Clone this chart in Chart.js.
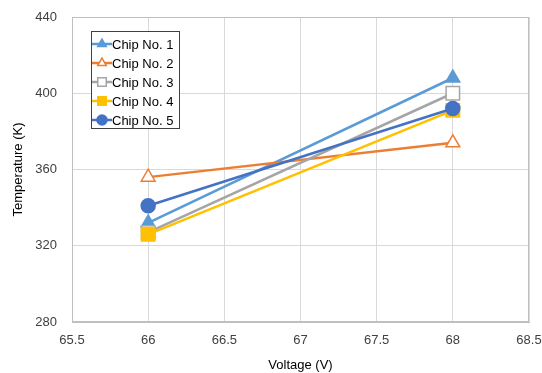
<!DOCTYPE html>
<html>
<head>
<meta charset="utf-8">
<script src="https://cdn.jsdelivr.net/npm/chart.js@4.4.0/dist/chart.umd.min.js"></script>
<style>
  html, body { margin: 0; padding: 0; background: #fff; }
  #wrap { width: 542px; height: 373px; position: relative; }
</style>
</head>
<body>
<div id="wrap"><canvas id="chart"></canvas></div>
<script>
// --- Data ---
const voltages = [66, 68];
const chipLabels = ['Chip No. 1', 'Chip No. 2', 'Chip No. 3', 'Chip No. 4', 'Chip No. 5'];
const chip1 = [332, 408];
const chip2 = [356, 374];
const chip3 = [327, 400];
const chip4 = [326, 391];
const chip5 = [341, 392];
const xTicks = [65.5, 66, 66.5, 67, 67.5, 68, 68.5];
const yTicks = [280, 320, 360, 400, 440];

const FONT = "'Liberation Sans', Arial, sans-serif";

const styles = [
    { color: '#5B9BD5', point: 'triangle', fill: '#5B9BD5', radius: 8 },
    { color: '#ED7D31', point: 'triangle', fill: '#ffffff', radius: 8 },
    { color: '#A5A5A5', point: 'rect', fill: '#ffffff', radius: 9.5 },
    { color: '#FFC000', point: 'rect', fill: '#FFC000', radius: 9.5 },
    { color: '#4472C4', point: 'circle', fill: '#4472C4', radius: 7 }
];

function toPoints(values) {
    return voltages.map((v, i) => ({ x: v, y: values[i] }));
}

const series = [chip1, chip2, chip3, chip4, chip5];
const datasets = series.map((vals, i) => ({
    label: chipLabels[i],
    data: toPoints(vals),
    borderColor: styles[i].color,
    backgroundColor: styles[i].fill,
    pointBackgroundColor: styles[i].fill,
    pointBorderColor: styles[i].color,
    pointBorderWidth: 1.5,
    pointStyle: styles[i].point,
    pointRadius: styles[i].radius,
    borderWidth: 2.5,
    order: series.length - 1 - i, // later series on top, like the original
    tension: 0
}));

// legend drawn inside the plot area, top-left
const insideLegend = {
    id: 'insideLegend',
    afterDraw(chart) {
        const ctx = chart.ctx;
        const box = { x: 91, y: 31, w: 88, h: 97 };
        ctx.save();
        ctx.fillStyle = '#fff';
        ctx.fillRect(box.x, box.y, box.w, box.h);
        ctx.strokeStyle = '#404040';
        ctx.lineWidth = 1;
        ctx.strokeRect(box.x + 0.5, box.y + 0.5, box.w, box.h);
        ctx.font = '13px ' + FONT;
        ctx.textBaseline = 'middle';
        chart.data.datasets.forEach((ds, i) => {
            const cy = box.y + 13 + i * 19;
            ctx.strokeStyle = ds.borderColor;
            ctx.lineWidth = 2.5;
            ctx.beginPath();
            ctx.moveTo(box.x + 1, cy);
            ctx.lineTo(box.x + 21, cy);
            ctx.stroke();
            ctx.fillStyle = ds.pointBackgroundColor;
            ctx.strokeStyle = ds.pointBorderColor;
            ctx.lineWidth = 1.5;
            const r = ds.pointStyle === 'rect' ? 6 : 5;
            Chart.helpers.drawPoint(ctx, { pointStyle: ds.pointStyle, radius: r, rotation: 0, borderWidth: 1.5 }, box.x + 11, cy);
            ctx.fillStyle = '#000';
            ctx.fillText(ds.label, box.x + 21, cy + 1);
        });
        ctx.restore();
    }
};

new Chart(document.getElementById('chart'), {
    type: 'line',
    data: { datasets: datasets },
    options: {
        responsive: true,
        maintainAspectRatio: false,
        animation: false,
        layout: { padding: { top: 17, right: 13, left: 0, bottom: 0 } },
        plugins: {
            legend: { display: false },
            tooltip: { enabled: false }
        },
        scales: {
            x: {
                type: 'linear',
                min: 65.5,
                max: 68.5,
                afterBuildTicks: (axis) => { axis.ticks = xTicks.map(v => ({ value: v })); },
                afterFit: (axis) => {
                    axis.height = 51;
                    axis.paddingLeft = 0;
                    axis.paddingRight = 0;
                },
                ticks: {
                    color: '#404040',
                    font: { family: FONT, size: 13 },
                    padding: 11,
                    maxRotation: 0,
                    callback: (v) => String(v)
                },
                grid: { color: '#d9d9d9', drawTicks: false },
                border: { color: '#bfbfbf' },
                title: {
                    display: true,
                    text: 'Voltage (V)',
                    color: '#000',
                    font: { family: FONT, size: 13 },
                    padding: { top: 4, bottom: 0 }
                }
            },
            y: {
                min: 280,
                max: 440,
                afterBuildTicks: (axis) => { axis.ticks = yTicks.map(v => ({ value: v })); },
                afterFit: (axis) => {
                    axis.width = 72;
                    axis.paddingTop = 0;
                    axis.paddingBottom = 0;
                },
                ticks: {
                    color: '#404040',
                    font: { family: FONT, size: 13 },
                    padding: 15
                },
                grid: { color: '#d9d9d9', drawTicks: false },
                border: { color: '#bfbfbf' },
                title: {
                    display: true,
                    text: 'Temperature (K)',
                    color: '#000',
                    font: { family: FONT, size: 13 },
                    padding: { top: 11, bottom: 2 }
                }
            }
        }
    },
    plugins: [insideLegend, {
        id: 'frame',
        afterDatasetsDraw(chart) {
            const a = chart.chartArea;
            const ctx = chart.ctx;
            ctx.save();
            ctx.strokeStyle = '#bfbfbf';
            ctx.lineWidth = 1;
            ctx.strokeRect(a.left + 0.5, a.top + 0.5, a.right - a.left - 1, a.bottom - a.top - 1);
            ctx.restore();
        }
    }]
});
</script>
</body>
</html>
